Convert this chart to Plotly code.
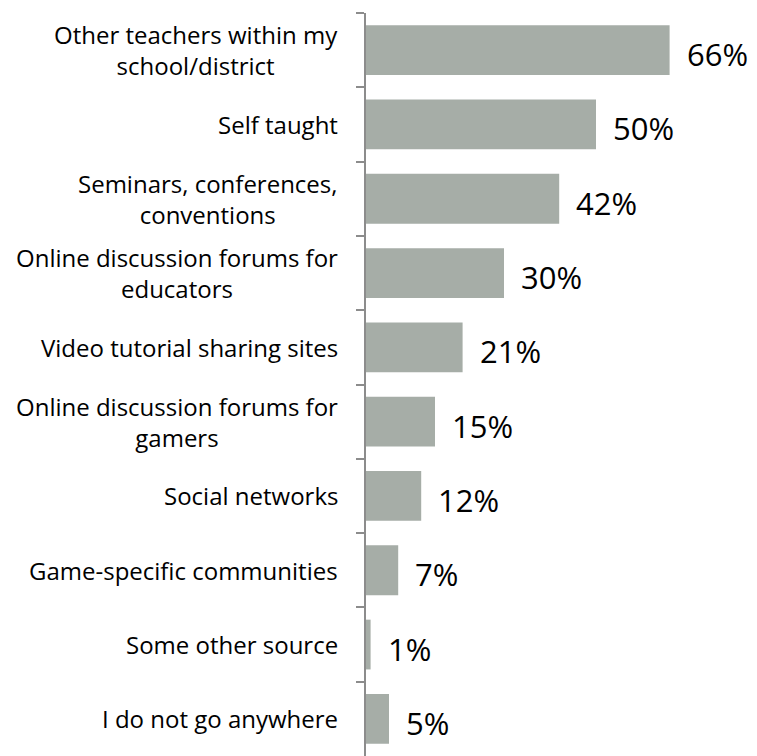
import plotly.graph_objects as go

# Where teachers go for help with games (share of respondents)
categories = [
    "Other teachers within my<br>school/district",
    "Self taught",
    "Seminars, conferences,<br>conventions",
    "Online discussion forums for<br>educators",
    "Video tutorial sharing sites",
    "Online discussion forums for<br>gamers",
    "Social networks",
    "Game-specific communities",
    "Some other source",
    "I do not go anywhere",
]
values = [66, 50, 42, 30, 21, 15, 12, 7, 1, 5]
value_labels = [f"{v}%" for v in values]

BAR_COLOR = "#A6ADA7"
AXIS_COLOR = "#8C8C8C"
FONT = "Open Sans"

fig = go.Figure(
    go.Bar(
        x=values,
        y=categories,
        orientation="h",
        marker=dict(color=BAR_COLOR, line=dict(width=0)),
        hoverinfo="skip",
    )
)

# Value labels to the right of each bar
for cat, v, lab in zip(categories, values, value_labels):
    fig.add_annotation(
        x=v, y=cat, xref="x", yref="y",
        text=lab, showarrow=False,
        xanchor="left", yanchor="middle", xshift=15, yshift=-4,
        font=dict(family=FONT, size=31, color="#000000"),
    )

# Category labels, centred line by line, left of the axis
for cat in categories:
    fig.add_annotation(
        x=0, y=cat, xref="paper", yref="y",
        text=cat, showarrow=False, align="center",
        xanchor="right", yanchor="middle", xshift=-26,
        font=dict(family=FONT, size=24, color="#000000"),
    )

fig.update_layout(
    width=757, height=756,
    margin=dict(l=366, r=0, t=13, b=0),
    paper_bgcolor="white", plot_bgcolor="white",
    bargap=0.33,
    showlegend=False,
    xaxis=dict(
        range=[0, 85], visible=False, fixedrange=True,
    ),
    yaxis=dict(
        type="category",
        autorange="reversed",
        showticklabels=False,
        showline=True, linecolor=AXIS_COLOR, linewidth=1.5,
        ticks="outside", ticklen=8, tickcolor=AXIS_COLOR, tickwidth=1.5,
        tickson="boundaries",
        showgrid=False, zeroline=False,
    ),
)

fig.write_html("out.html")
